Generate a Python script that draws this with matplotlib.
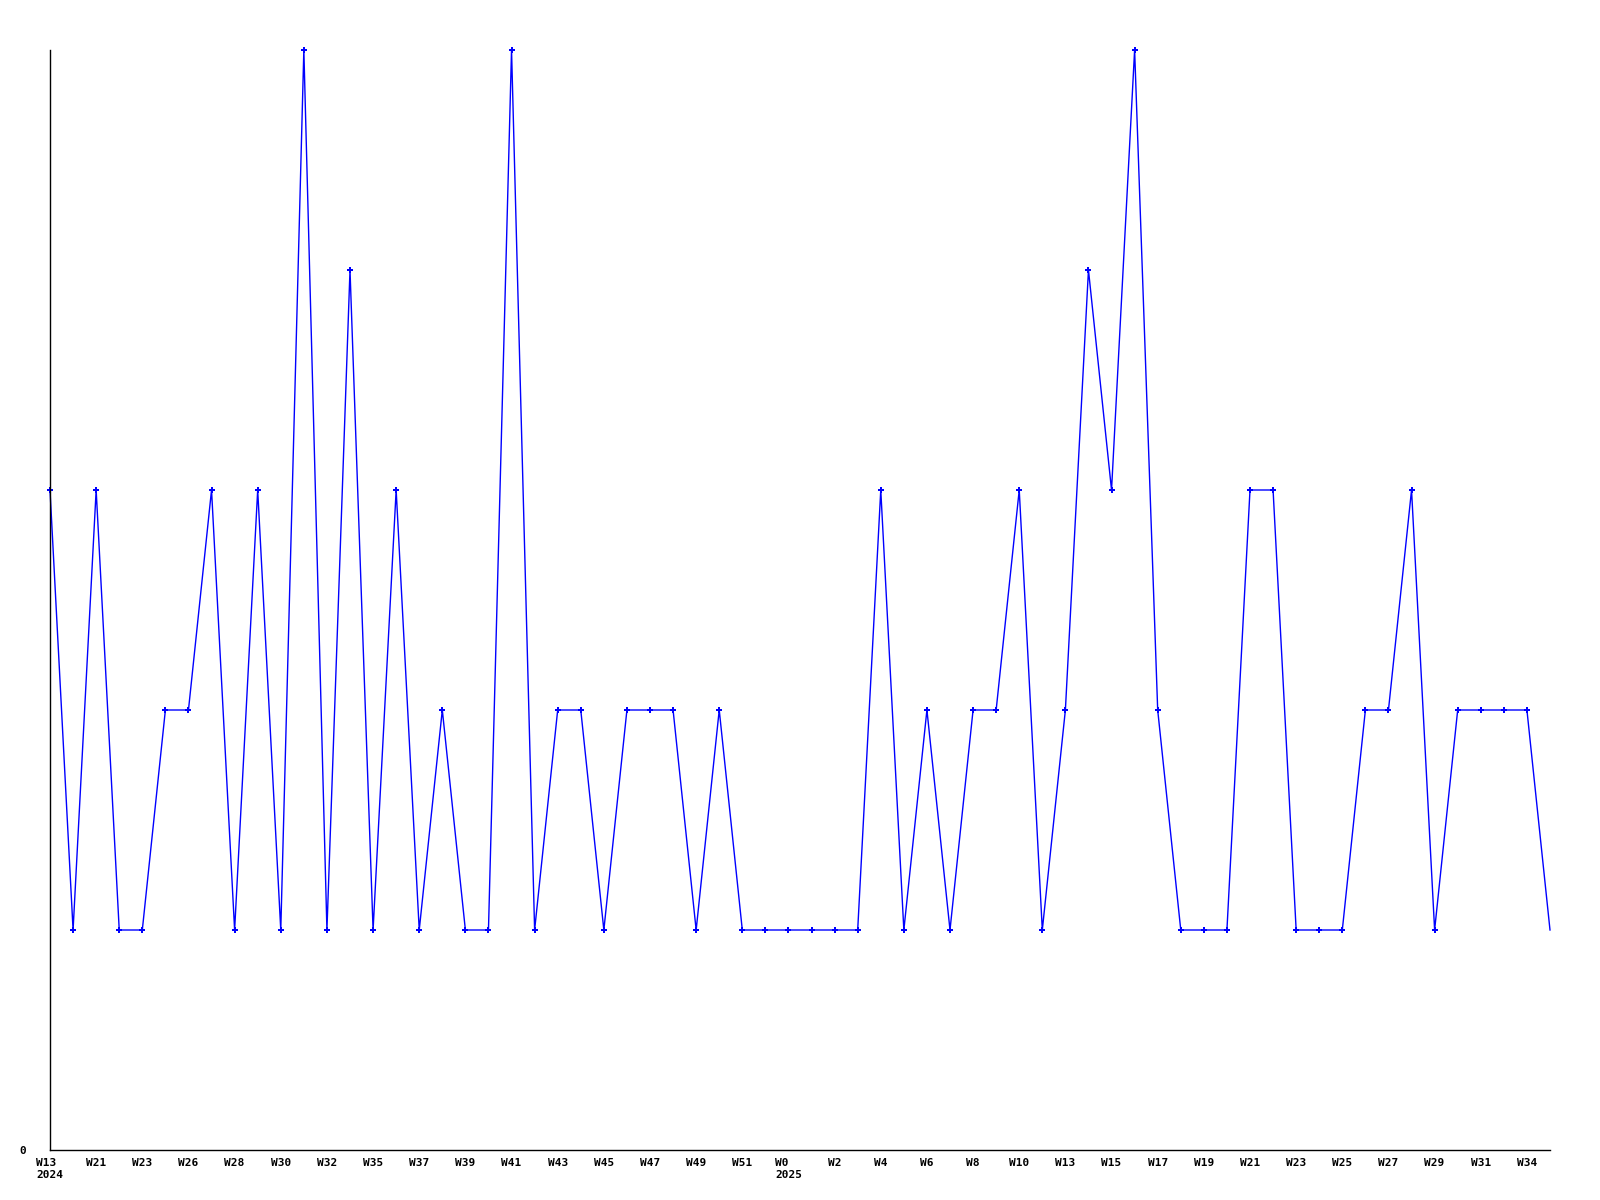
import matplotlib
matplotlib.use('Agg')
import matplotlib.pyplot as plt
import numpy as np

# weekly counts, one point per week
values = [3, 1, 3, 1, 1, 2, 2, 3, 1, 3,
          1, 5, 1, 4, 1, 3, 1, 2, 1, 1,
          5, 1, 2, 2, 1, 2, 2, 2, 1, 2,
          1, 1, 1, 1, 1, 1, 3, 1, 2, 1,
          2, 2, 3, 1, 2, 4, 3, 5, 2, 1,
          1, 1, 3, 3, 1, 1, 1, 2, 2, 3,
          1, 2, 2, 2, 2, 1]

# labels shown on every second point
tick_labels = ['W13\n2024', 'W21', 'W23', 'W26', 'W28', 'W30', 'W32', 'W35',
               'W37', 'W39', 'W41', 'W43', 'W45', 'W47', 'W49', 'W51',
               'W0\n2025', 'W2', 'W4', 'W6', 'W8', 'W10', 'W13', 'W15',
               'W17', 'W19', 'W21', 'W23', 'W25', 'W27', 'W29', 'W31', 'W34']

x = np.arange(len(values))

fig = plt.figure(figsize=(16, 12), dpi=100)
ax = fig.add_axes([50 / 1600, 50 / 1200, 1500 / 1600, 1100 / 1200])

ax.plot(x, values, color='#0000ff', linewidth=1, clip_on=False)
ax.plot(x[:-1], values[:-1], linestyle='none', marker='P', markersize=4,
        color='#0000ff', markeredgewidth=0, clip_on=False)

ax.set_xlim(0, len(values) - 1)
ax.set_ylim(0, 5)

ax.set_xticks(x[::2])
ax.set_xticklabels(tick_labels, family='DejaVu Sans Mono', fontweight='bold',
                   fontsize=8, multialignment='left', va='top')
ax.set_yticks([0])
ax.set_yticklabels(['0'], family='DejaVu Sans Mono', fontweight='bold', fontsize=8)
ax.tick_params(length=0, pad=6)
ax.tick_params(axis='y', pad=17)

for side in ['top', 'right']:
    ax.spines[side].set_visible(False)
for side in ['left', 'bottom']:
    ax.spines[side].set_color('black')
    ax.spines[side].set_linewidth(1)

fig.savefig('out.png', dpi=100, facecolor='white')
